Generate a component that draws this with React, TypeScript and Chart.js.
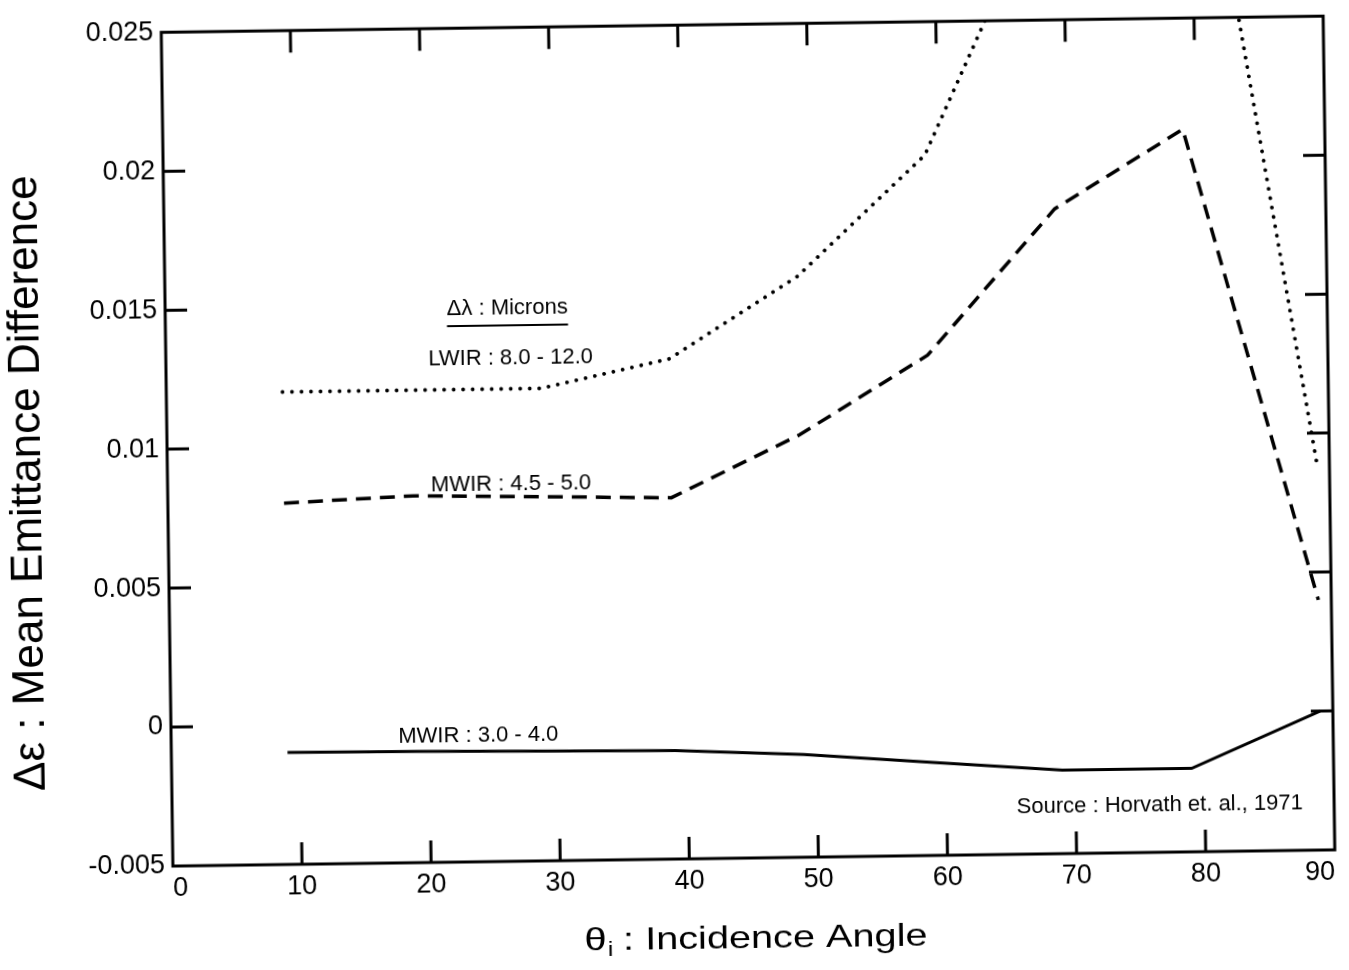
import React, { useEffect, useRef } from "react";
import { Chart, registerables } from "chart.js";

Chart.register(...registerables);

// ---- data (incidence angle in degrees, mean emittance difference) ----
const ANGLES = [9, 19, 29, 39, 49, 59, 69, 79, 89];
const LWIR_8_12 = [0.012, 0.012, 0.012, 0.013, 0.0159, 0.0202, 0.0302, 0.0378, 0.009];
const MWIR_45_50 = [0.008, 0.0082, 0.0081, 0.008, 0.0102, 0.013, 0.0182, 0.021, 0.004];
const MWIR_30_40 = [-0.00097, -0.001, -0.00105, -0.0011, -0.0013, -0.00165, -0.002, -0.002, 0.0];

// ---- axes ----
const X_TICKS = [0, 10, 20, 30, 40, 50, 60, 70, 80, 90];
const Y_TICKS = [-0.005, 0, 0.005, 0.01, 0.015, 0.02, 0.025];
const Y_TICK_LABELS = ["-0.005", "0", "0.005", "0.01", "0.015", "0.02", "0.025"];
const X_TITLE_SYMBOL = "θ";
const X_TITLE_SUB = "i";
const X_TITLE_REST = " : Incidence Angle";
const Y_TITLE = "Δε : Mean Emittance Difference";

// ---- in-plot notes (placed in data units) ----
const NOTE_TEXT = [
  "Δλ : Microns",
  "LWIR : 8.0 - 12.0",
  "MWIR : 4.5 - 5.0",
  "MWIR : 3.0 - 4.0",
  "Source : Horvath et. al., 1971",
];
const NOTE_X = [26.5, 26.7, 26.6, 23.8, 76.5];
const NOTE_Y = [0.0149, 0.0131, 0.00858, -0.00046, -0.00332];

const FONT = '"Liberation Sans", Arial, Helvetica, sans-serif';

const framePlugin = {
  id: "frameAndNotes",
  afterDraw(chart: any) {
    const { ctx, chartArea: a, scales } = chart;
    const xs = scales.x;
    const ys = scales.y;
    ctx.save();
    ctx.strokeStyle = "#000";
    ctx.fillStyle = "#000";
    ctx.lineWidth = 3;
    ctx.lineCap = "butt";
    ctx.strokeRect(a.left, a.top, a.right - a.left, a.bottom - a.top);

    const TL = 22;
    ctx.beginPath();
    X_TICKS.slice(1, -1).forEach((v) => {
      const p = xs.getPixelForValue(v);
      ctx.moveTo(p, a.bottom);
      ctx.lineTo(p, a.bottom - TL);
      ctx.moveTo(p, a.top);
      ctx.lineTo(p, a.top + TL);
    });
    Y_TICKS.slice(1, -1).forEach((v) => {
      const p = ys.getPixelForValue(v);
      ctx.moveTo(a.left, p);
      ctx.lineTo(a.left + TL, p);
      ctx.moveTo(a.right, p);
      ctx.lineTo(a.right - TL, p);
    });
    ctx.stroke();

    // notes
    ctx.font = `22px ${FONT}`;
    ctx.textAlign = "center";
    ctx.textBaseline = "middle";
    NOTE_TEXT.forEach((t, i) => {
      const x = xs.getPixelForValue(NOTE_X[i]);
      const y = ys.getPixelForValue(NOTE_Y[i]);
      ctx.fillText(t, x, y);
      if (i === 0) {
        const w = ctx.measureText(t).width;
        ctx.lineWidth = 2;
        ctx.beginPath();
        ctx.moveTo(x - w / 2, y + 17);
        ctx.lineTo(x + w / 2, y + 17);
        ctx.stroke();
      }
    });

    // x title
    ctx.save();
    const cx = (a.left + a.right) / 2 + 1;
    const cy = a.bottom + 78;
    ctx.translate(cx, cy);
    ctx.scale(1.24, 1);
    ctx.textAlign = "left";
    ctx.textBaseline = "alphabetic";
    ctx.font = `32px ${FONT}`;
    const w1 = ctx.measureText(X_TITLE_SYMBOL).width;
    const w3 = ctx.measureText(X_TITLE_REST).width;
    ctx.font = `20px ${FONT}`;
    const w2 = ctx.measureText(X_TITLE_SUB).width;
    const start = -(w1 + w2 + w3) / 2;
    const base = 11.5;
    ctx.font = `32px ${FONT}`;
    ctx.fillText(X_TITLE_SYMBOL, start, base);
    ctx.fillText(X_TITLE_REST, start + w1 + w2, base);
    ctx.font = `20px ${FONT}`;
    ctx.fillText(X_TITLE_SUB, start + w1 + 1, base + 6);
    ctx.restore();

    // y title
    ctx.save();
    ctx.translate(28, (a.top + a.bottom) / 2 + 32);
    ctx.rotate(-Math.PI / 2);
    ctx.font = `44px ${FONT}`;
    ctx.textAlign = "center";
    ctx.textBaseline = "middle";
    ctx.fillText(Y_TITLE, 0, 0);
    ctx.restore();

    ctx.restore();
  },
};

export default function App() {
  const canvasRef = useRef<HTMLCanvasElement | null>(null);

  useEffect(() => {
    if (!canvasRef.current) return;
    const toPoints = (ys: number[]) => ANGLES.map((x, i) => ({ x, y: ys[i] }));
    const chart = new Chart(canvasRef.current, {
      type: "line",
      data: {
        datasets: [
          {
            label: "LWIR : 8.0 - 12.0",
            data: toPoints(LWIR_8_12),
            borderColor: "#000",
            borderWidth: 3.8,
            borderDash: [0.01, 9.5],
            borderCapStyle: "round",
            pointRadius: 0,
            fill: false,
            tension: 0,
          },
          {
            label: "MWIR : 4.5 - 5.0",
            data: toPoints(MWIR_45_50),
            borderColor: "#000",
            borderWidth: 3.5,
            borderDash: [15, 9],
            borderCapStyle: "butt",
            pointRadius: 0,
            fill: false,
            tension: 0,
          },
          {
            label: "MWIR : 3.0 - 4.0",
            data: toPoints(MWIR_30_40),
            borderColor: "#000",
            borderWidth: 3,
            pointRadius: 0,
            fill: false,
            tension: 0,
          },
        ],
      },
      options: {
        responsive: false,
        animation: false,
        devicePixelRatio: 1,
        layout: { padding: { left: 0, right: 20, top: 19, bottom: 0 } },
        plugins: {
          legend: { display: false },
          tooltip: { enabled: false },
          title: { display: false },
        },
        scales: {
          x: {
            type: "linear",
            min: 0,
            max: 90,
            afterBuildTicks: (s: any) => {
              s.ticks = X_TICKS.map((v) => ({ value: v }));
            },
            afterFit: (s: any) => {
              s.height = 112;
            },
            grid: { display: false, drawTicks: false },
            border: { display: false },
            ticks: {
              align: "inner",
              padding: 6,
              color: "#000",
              autoSkip: false,
              maxRotation: 0,
              font: { family: FONT, size: 27 },
              callback: (v: any) => String(v),
            },
          },
          y: {
            type: "linear",
            min: -0.005,
            max: 0.025,
            afterBuildTicks: (s: any) => {
              s.ticks = Y_TICKS.map((v) => ({ value: v }));
            },
            afterFit: (s: any) => {
              s.width = 167;
            },
            grid: { display: false, drawTicks: false },
            border: { display: false },
            ticks: {
              padding: 8,
              color: "#000",
              autoSkip: false,
              font: { family: FONT, size: 27 },
              callback: (v: any) => {
                const i = Y_TICKS.findIndex((t) => Math.abs(t - v) < 1e-9);
                return i >= 0 ? Y_TICK_LABELS[i] : "";
              },
            },
          },
        },
      } as any,
      plugins: [framePlugin],
    });
    return () => chart.destroy();
  }, []);

  return (
    <div
      style={{
        position: "fixed",
        left: 0,
        top: 0,
        width: 1349,
        height: 970,
        overflow: "hidden",
        background: "#fff",
      }}
    >
      <canvas
        ref={canvasRef}
        width={1349}
        height={970}
        style={{
          display: "block",
          transform: "rotate(-0.8deg)",
          transformOrigin: "748px 440px",
        }}
      />
    </div>
  );
}
